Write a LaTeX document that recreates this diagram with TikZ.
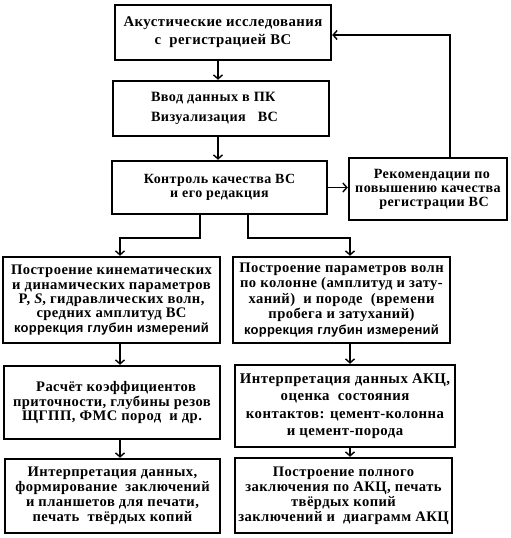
\documentclass[tikz,border=0pt]{standalone}
\usepackage{fontspec}
\setmainfont{Liberation Serif}
\newfontfamily\sansb{Liberation Sans}
\usetikzlibrary{arrows.meta}
\begin{document}
\begin{tikzpicture}[x=1pt,y=-1pt,
  box/.style={draw, line width=2.4pt, rectangle, inner sep=0pt, align=center},
  arr/.style={line width=1.8pt, -{Straight Barb[length=4pt,width=9pt,line width=1.4pt]}},
  ln/.style={line width=1.8pt}]
\useasboundingbox (0,0) rectangle (511,538);
\fill[white] (0,0) rectangle (511,538);
% boxes
\node[box, minimum width=216pt, minimum height=55pt, font=\fontsize{14.8}{18}\bfseries\addfontfeature{LetterSpace=3}] (B1) at (223,32.5)
  {Акустические исследования\\ с~ регистрацией ВС};
\node[box, minimum width=216pt, minimum height=55pt, font=\fontsize{14.2}{20}\bfseries\addfontfeature{LetterSpace=3}] (B2) at (221,108.5)
  {\makebox[140pt][l]{Ввод данных в ПК}\\ \makebox[140pt][l]{Визуализация~~ ВС}};
\node[box, minimum width=215pt, minimum height=53pt, font=\fontsize{14}{14}\bfseries\addfontfeature{LetterSpace=3}] (B3) at (219.5,187.5)
  {Контроль качества ВС\\ и его редакция\hspace{22pt}};
\node[box, minimum width=158pt, minimum height=62pt, font=\fontsize{14.1}{14}\bfseries\addfontfeature{LetterSpace=3}] (BR) at (428,189)
  {~~Рекомендации по\\ повышению качества\\ \hspace{12pt}регистрации ВС};
\node[box, minimum width=217pt, minimum height=86pt, font=\fontsize{14.6}{14.4}\bfseries\addfontfeature{LetterSpace=3}] (B4L) at (111.5,300)
  {Построение кинематических\\ и динамических параметров\\ P, \textit{S}, гидравлических волн,\\ средних амплитуд ВС\hspace{16pt}\\ {\sansb\fontsize{13}{14.4}\bfseries\addfontfeature{LetterSpace=2}коррекция глубин измерений}};
\node[box, minimum width=217pt, minimum height=86pt, font=\fontsize{14.6}{15.5}\bfseries\addfontfeature{LetterSpace=3}] (B4R) at (341.5,300)
  {Построение параметров волн\\ по колонне (амплитуд и зату-\\ ханий)~ и породе~ (времени\\ пробега и затуханий)\hspace{12pt}\\ {\sansb\fontsize{13}{14}\bfseries\addfontfeature{LetterSpace=2}коррекция глубин измерений}};
\node[box, minimum width=216pt, minimum height=73pt, font=\fontsize{14.6}{13.5}\bfseries\addfontfeature{LetterSpace=3}] (B5L) at (112,402.5)
  {~~Расчёт коэффициентов\\ приточности, глубины резов\\ ЩГПП, ФМС пород~ и др.};
\node[box, minimum width=220pt, minimum height=82pt, font=\fontsize{14.8}{17.5}\bfseries\addfontfeature{LetterSpace=3}] (B5R) at (345,406)
  {Интерпретация данных АКЦ,\\ оценка~ состояния\hspace{16pt}\\ контактов: цемент-колонна\\ и цемент-порода};
\node[box, minimum width=215pt, minimum height=74pt, font=\fontsize{14.6}{15}\bfseries\addfontfeature{LetterSpace=3}] (B6L) at (112.5,496)
  {Интерпретация данных,\\ формирование~ заключений\\ и планшетов для печати,\\ печать~ твёрдых копий};
\node[box, minimum width=217pt, minimum height=75pt, font=\fontsize{14.6}{15}\bfseries\addfontfeature{LetterSpace=3}] (B6R) at (343.5,495.5)
  {Построение полного\\ заключения по АКЦ, печать\\ твёрдых копий\\ заключений и~ диаграмм АКЦ};
% column coordinates
\coordinate (c0) at (218,0);
\coordinate (colL) at (120,0);
\coordinate (colR) at (350,0);
\coordinate (fb) at (450,35);
% connectors
\draw[arr] (B1.south -| c0) -- (B2.north -| c0);
\draw[arr] (B2.south -| c0) -- (B3.north -| c0);
\draw[arr] (B3.east) -- (BR.west |- B3.east);
\draw[arr] (BR.north -| fb) |- (B1.east |- fb);
\draw[arr] ([xshift=-19.5pt]B3.south) -- ++(0,23) -| (B4L.north -| colL);
\draw[arr] ([xshift=28.5pt]B3.south) -- ++(0,23) -| (B4R.north -| colR);
\draw[arr] (B4L.south -| colL) -- (B5L.north -| colL);
\draw[arr] (B4R.south -| colR) -- (B5R.north -| colR);
\draw[arr] (B5L.south -| colL) -- (B6L.north -| colL);
\draw[arr] (B5R.south -| colR) -- (B6R.north -| colR);
\end{tikzpicture}
\end{document}
